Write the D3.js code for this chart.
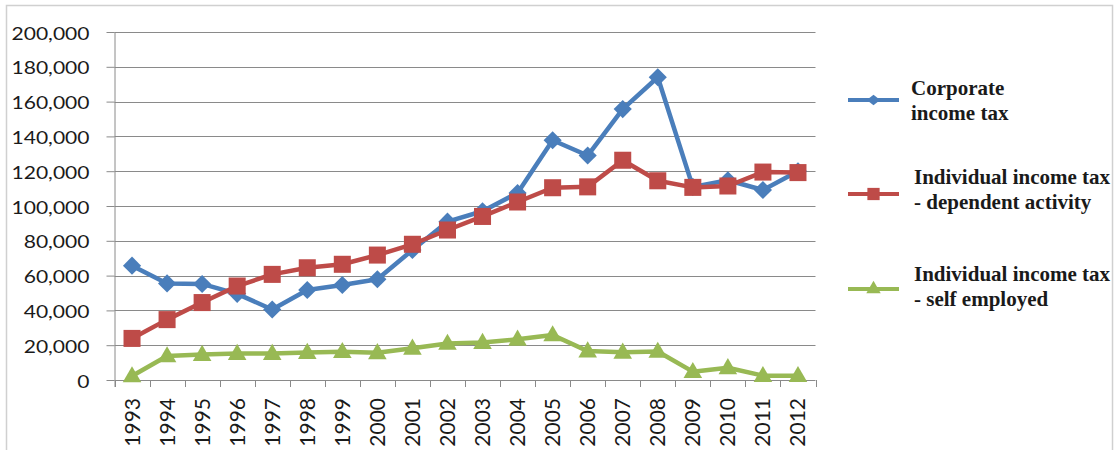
<!DOCTYPE html>
<html><head><meta charset="utf-8">
<script src="https://cdn.jsdelivr.net/npm/d3@7"></script>
<style>
body{margin:0;background:#fff;}svg{display:block;}
.leg{font-family:"Liberation Serif","Times New Roman",Times,"DejaVu Serif",serif;font-weight:bold;}
.lab{font-family:Lato,"Open Sans",sans-serif;}
</style>
</head><body>
<svg id="chart" width="1119" height="450"></svg>
<script>
const years = ["1993","1994","1995","1996","1997","1998","1999","2000","2001","2002","2003","2004","2005","2006","2007","2008","2009","2010","2011","2012"];
const corporate = [65700,55500,55200,49500,40500,51700,54600,57900,74700,91000,97000,107500,137800,129000,155700,174000,111000,114800,109200,120000];
const dependent = [23900,34700,44500,54000,60700,64500,66500,71800,78000,86200,94000,102300,110500,111000,126300,114500,110700,111500,119500,119200];
const selfEmployed = [2300,13800,14600,15200,15200,15800,16300,15600,18200,21000,21500,23400,25900,16600,15900,16400,4800,7000,2500,2500];
const yTicks = [0,20000,40000,60000,80000,100000,120000,140000,160000,180000,200000];
const seriesNames = [["Corporate","income tax"],["Individual income tax","- dependent activity"],["Individual income tax","- self employed"]];
const seriesColors = ["#4a7ebb","#be4b48","#98b954"];
const seriesSymbols = ["diamond","square","triangle"];

const svg = d3.select("#chart");
const L = 114.5, R = 815.5, T = 32, B = 380;
const x = d3.scaleBand().domain(years).range([L, R]).padding(0);
const y = d3.scaleLinear().domain([0, 200000]).range([B, T]);

// outer border
svg.append("rect").attr("x",6.5).attr("y",5.5).attr("width",1106).attr("height",460)
  .attr("fill","none").attr("stroke","#d0d0d0").attr("stroke-width",1.5);

// gridlines
svg.append("g").selectAll("line").data(yTicks.slice(1)).join("line")
  .attr("x1", L).attr("x2", R)
  .attr("y1", d => Math.round(y(d)) + 0.5).attr("y2", d => Math.round(y(d)) + 0.5)
  .attr("stroke", "#8a8a8a").attr("stroke-width", 1);

// y axis
const yAxis = svg.append("g").attr("transform", `translate(${L},0)`)
  .call(d3.axisLeft(y).tickValues(yTicks).tickSize(8).tickPadding(10).tickFormat(d3.format(",")));
yAxis.select(".domain").attr("stroke","#8a8a8a").attr("d", `M0.5,${T}V${B+7}`);
yAxis.selectAll(".tick line").attr("stroke","#8a8a8a");
yAxis.selectAll(".tick text").each(function(){
  const t = d3.select(this);
  const xx = +t.attr("x");
  t.attr("x", null).attr("dy", null).attr("class","lab")
   .attr("transform", `translate(${xx - 7},7) scale(1.17,1)`)
   .attr("font-size", 18).attr("fill","#1a1a1a");
});

// x axis
const xAxis = svg.append("g").attr("transform", `translate(0,${B})`)
  .call(d3.axisBottom(x).tickSize(0).tickPadding(0));
xAxis.select(".domain").attr("stroke","#8a8a8a").attr("d", `M${L},0.5H${R}`);
xAxis.selectAll(".tick text")
  .attr("y", null).attr("dy", null).attr("class","lab")
  .attr("text-anchor","end")
  .attr("transform","translate(7.5,18) rotate(-90)")
  .attr("font-size", 21).attr("fill","#1a1a1a");
xAxis.attr("font-family", null);
yAxis.attr("font-family", null);
// boundary ticks
xAxis.append("g").selectAll("line").data(d3.range(years.length + 1)).join("line")
  .attr("x1", i => Math.round(L + i * x.step()) + 0.5).attr("x2", i => Math.round(L + i * x.step()) + 0.5)
  .attr("y1", 0).attr("y2", 7).attr("stroke","#8a8a8a");

const cx = d => x(d) + x.bandwidth() / 2;
const series = [corporate, dependent, selfEmployed];
const symType = {diamond: d3.symbolDiamond2, square: d3.symbolSquare, triangle: d3.symbolTriangle};
const symSize = {diamond: 210, square: 290, triangle: 150};
const line = d3.line().x((d,i) => cx(years[i])).y(d => y(d));

series.forEach((vals, si) => {
  const g = svg.append("g");
  g.append("path").datum(vals).attr("d", line)
    .attr("fill","none").attr("stroke", seriesColors[si]).attr("stroke-width", 4.5).attr("stroke-linejoin","round");
  const s = seriesSymbols[si];
  const sym = d3.symbol().type(symType[s]).size(symSize[s]);
  g.selectAll("path.m").data(vals).join("path").attr("class","m")
    .attr("transform", (d,i) => `translate(${cx(years[i])},${y(d) + (s==="triangle" ? 1 : 0)})`)
    .attr("d", sym).attr("fill", seriesColors[si]);
});

// legend
const legY = [100, 194, 289];
const lg = svg.append("g");
seriesNames.forEach((names, si) => {
  const s = seriesSymbols[si];
  const g = lg.append("g").attr("transform", `translate(0,${legY[si]})`);
  g.append("line").attr("x1", 848).attr("x2", 899).attr("y1", 0).attr("y2", 0)
    .attr("stroke", seriesColors[si]).attr("stroke-width", 4);
  const sym = d3.symbol().type(symType[s]).size(s==="square" ? 150 : (s==="diamond" ? 95 : 90));
  g.append("path").attr("d", sym).attr("transform", `translate(873.5,0)` + (s==="diamond" ? " scale(1.1,0.85)" : "")).attr("fill", seriesColors[si]);
  const tx = si === 0 ? 911 : 914;
  const base = si === 0 ? -5 : (si === 1 ? -10 : -8);
  g.selectAll("text").data(names).join("text").attr("class","leg")
    .attr("x", tx).attr("y", (d,i) => base + i * 24.5)
    .attr("font-size", 21).attr("fill","#1a1a1a").text(d => d);
});
</script>
</body></html>
